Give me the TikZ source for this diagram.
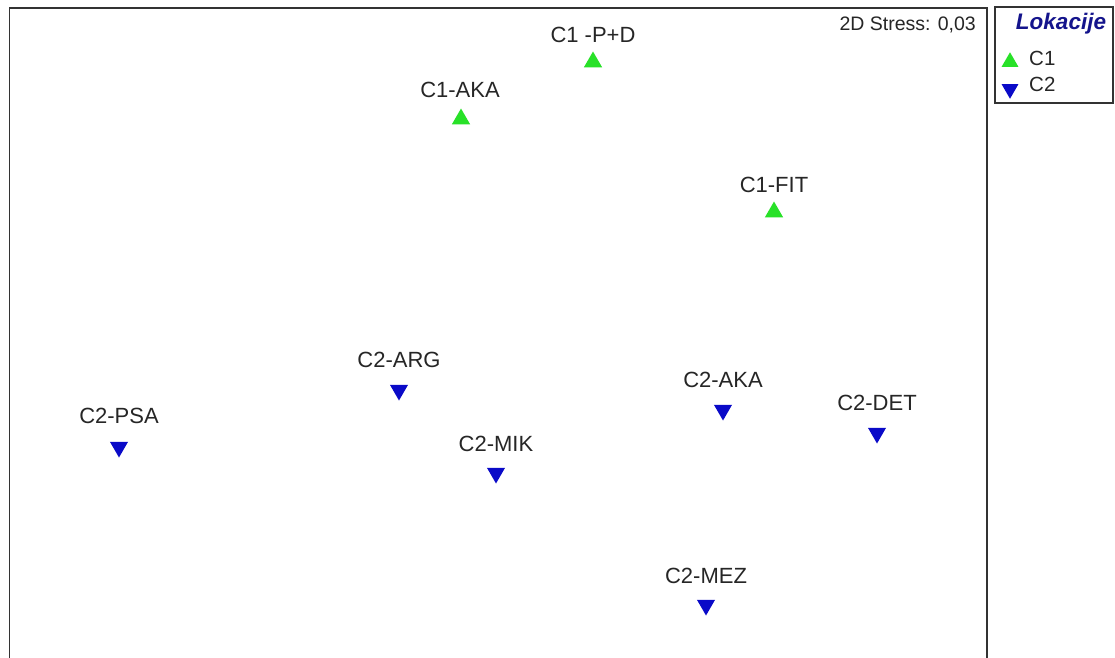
\documentclass[tikz,border=0pt]{standalone}
\usepackage{fontspec}
\setmainfont{Liberation Sans}
\usetikzlibrary{shapes.geometric}
\definecolor{upgreen}{RGB}{40,225,40}
\definecolor{downblue}{RGB}{10,10,200}
\definecolor{legblue}{RGB}{20,20,140}
\begin{document}
\begin{tikzpicture}[x=1pt,y=-1pt,
  up/.style={regular polygon, regular polygon sides=3, fill=upgreen, draw=none, minimum size=21pt, inner sep=0pt},
  down/.style={regular polygon, regular polygon sides=3, regular polygon rotate=180, fill=downblue, draw=none, minimum size=21pt, inner sep=0pt},
  lab/.style={font=\fontsize{22}{24}\selectfont, text=black!85, inner sep=0pt},
  frameline/.style={draw=black!80, line width=1.3pt}
]
\useasboundingbox (0,0) rectangle (1115,657);
\fill[white] (0,0) rectangle (1115,657);
% plot frame
\draw[frameline] (9.5,660) -- (9.5,8) -- (987,8) -- (987,660);
% legend box
\draw[frameline] (995,7) rectangle (1113,103);
\node[font=\fontsize{22.5}{24}\selectfont\bfseries\itshape, text=legblue, inner sep=0pt] (legtitle) at (1061,24) {Lokacije};
\node[up, minimum size=19.5pt] (legup) at (1010,62) {};
\node[lab, anchor=west, font=\fontsize{20.5}{24}\selectfont] (legc1) at (1029,58) {C1};
\node[down, minimum size=19.5pt] (legdown) at (1010,89) {};
\node[lab, anchor=west, font=\fontsize{20.5}{24}\selectfont] (legc2) at (1029,84) {C2};
% stress
\node[lab, anchor=east, font=\fontsize{19.5}{22}\selectfont] (stress) at (976,25) {2D Stress: 0,03};
% points
\node[up] (p1) at (593,62) {};
\node[lab] (l1) at (593,35) {C1 -P+D};
\node[up] (p2) at (461,119) {};
\node[lab] (l2) at (460,90) {C1-AKA};
\node[up] (p3) at (774,212) {};
\node[lab] (l3) at (774,185) {C1-FIT};
\node[down] (p4) at (399,390) {};
\node[lab] (l4) at (399,360) {C2-ARG};
\node[down] (p5) at (119,447) {};
\node[lab] (l5) at (119,416) {C2-PSA};
\node[down] (p6) at (723,410) {};
\node[lab] (l6) at (723,380) {C2-AKA};
\node[down] (p7) at (877,433) {};
\node[lab] (l7) at (877,403) {C2-DET};
\node[down] (p8) at (496,473) {};
\node[lab] (l8) at (496,444) {C2-MIK};
\node[down] (p9) at (706,605) {};
\node[lab] (l9) at (706,576) {C2-MEZ};
\end{tikzpicture}
\end{document}
